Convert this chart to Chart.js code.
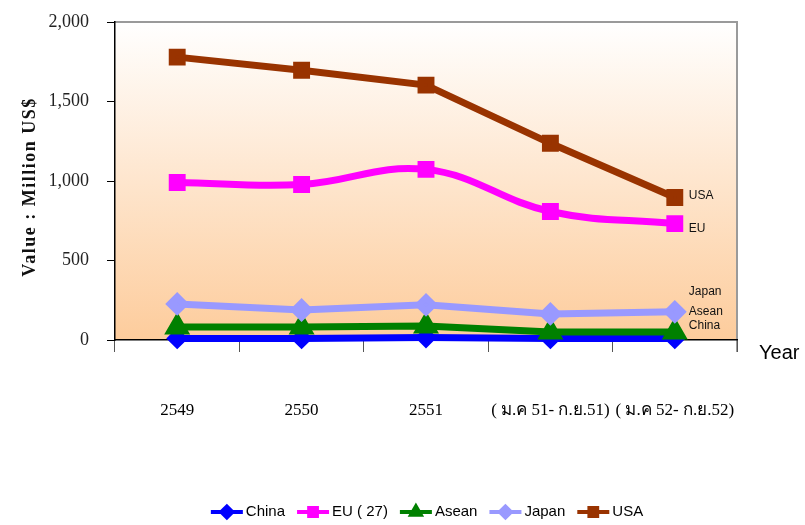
<!DOCTYPE html>
<html>
<head>
<meta charset="utf-8">
<script src="https://cdn.jsdelivr.net/npm/chart.js@4.4.1/dist/chart.umd.min.js"></script>
<style>
  html, body { margin: 0; padding: 0; background: #fff; }
  #wrap { width: 805px; height: 525px; position: relative; }
</style>
</head>
<body>
<div id="wrap"><canvas id="chartExport"></canvas></div>
<script>
/* Export values by destination, million US$ */

const categories = ['2549', '2550', '2551', '( ม.ค 51- ก.ย.51)', '( ม.ค 52- ก.ย.52)'];
const yTicks = [0, 500, 1000, 1500, 2000];

const china = [10, 10, 16, 10, 10];
const eu27 = [991, 978, 1073, 808, 732];
const asean = [82, 82, 88, 50, 50];
const japan = [227, 189, 221, 164, 177];
const usa = [1779, 1697, 1603, 1237, 896];

// side labels next to the last point (value where the text sits)
const sideNames = ['USA', 'EU', 'Japan', 'Asean', 'China'];
const sideAt = [910, 700, 305, 175, 90];

const SERIES = [
  { label: 'China', data: china, color: '#0000ff', point: 'rectRot', r: 6 },
  { label: 'EU ( 27)', data: eu27, color: '#ff00ff', point: 'rect', r: 7, smooth: true },
  { label: 'Asean', data: asean, color: '#008000', point: 'triangle', r: 8 },
  { label: 'Japan', data: japan, color: '#9999ff', point: 'rectRot', r: 7 },
  { label: 'USA', data: usa, color: '#993300', point: 'rect', r: 7 }
];

const datasets = SERIES.map((s, i) => ({
  label: s.label,
  data: s.data,
  borderColor: s.color,
  backgroundColor: s.color,
  borderWidth: 7,
  pointStyle: s.point,
  pointRadius: s.r,
  pointHoverRadius: s.r,
  tension: s.smooth ? 0.4 : 0,
  clip: false,
  order: SERIES.length - i,
  fill: false
}));

const plotBack = {
  id: 'plotBack',
  beforeDraw(chart) {
    const { ctx, chartArea: a } = chart;
    const g = ctx.createLinearGradient(0, a.top, 0, a.bottom);
    g.addColorStop(0, '#ffffff');
    g.addColorStop(1, '#fdcc9c');
    ctx.save();
    ctx.fillStyle = g;
    ctx.fillRect(a.left, a.top, a.right - a.left, a.bottom - a.top);
    ctx.strokeStyle = '#9a9a9a';
    ctx.lineWidth = 2;
    ctx.beginPath();
    ctx.moveTo(a.left, a.top);
    ctx.lineTo(a.right, a.top);
    ctx.lineTo(a.right, a.bottom + 12);
    ctx.stroke();
    ctx.restore();
  },
  afterDraw(chart) {
    const { ctx, chartArea: a, scales } = chart;
    ctx.save();
    // y axis title, spaced out like the original
    ctx.save();
    ctx.translate(30, 187);
    ctx.rotate(-Math.PI / 2);
    ctx.font = 'bold 18px "Liberation Serif", "Times New Roman", serif';
    ctx.letterSpacing = '1.5px';
    ctx.fillStyle = '#111';
    ctx.textAlign = 'center';
    ctx.textBaseline = 'middle';
    ctx.fillText('Value : Million US$', 0, 0);
    ctx.restore();

    // labels at the right end
    ctx.fillStyle = '#111';
    ctx.font = '12px "Liberation Sans", Arial, sans-serif';
    ctx.textBaseline = 'middle';
    const xLast = scales.x.getPixelForValue(categories.length - 1);
    sideNames.forEach((n, i) => {
      ctx.fillText(n, xLast + 14, scales.y.getPixelForValue(sideAt[i]));
    });
    // axis name "Year"
    ctx.font = '20px "Liberation Sans", Arial, sans-serif';
    ctx.fillStyle = '#000';
    ctx.fillText('Year', a.right + 22, a.bottom + 13);

    // legend: line + marker + text
    ctx.font = '15px "Liberation Sans", Arial, sans-serif';
    const lineW = 32, gapTxt = 3, gapItem = 12;
    const widths = SERIES.map(s => lineW + gapTxt + ctx.measureText(s.label).width);
    const total = widths.reduce((p, w) => p + w, 0) + gapItem * (SERIES.length - 1);
    let x = 427 - total / 2;
    const y = 512;
    SERIES.forEach((s, i) => {
      ctx.strokeStyle = s.color;
      ctx.lineWidth = 4;
      ctx.beginPath();
      ctx.moveTo(x, y);
      ctx.lineTo(x + lineW, y);
      ctx.stroke();
      ctx.fillStyle = s.color;
      Chart.helpers.drawPoint(ctx, { pointStyle: s.point, radius: 5.5, borderWidth: 1, rotation: 0 }, x + lineW / 2, y);
      ctx.fillStyle = '#000';
      ctx.fillText(s.label, x + lineW + gapTxt, y);
      x += widths[i] + gapItem;
    });
    ctx.restore();
  }
};

new Chart(document.getElementById('chartExport'), {
  type: 'line',
  data: { labels: categories, datasets },
  options: {
    responsive: true,
    maintainAspectRatio: false,
    animation: false,
    layout: { padding: { top: 22, right: 68, left: 20, bottom: 0 } },
    plugins: { legend: { display: false }, tooltip: { enabled: false } },
    scales: {
      x: {
        offset: true,
        grid: { display: true, offset: true, drawOnChartArea: false, drawTicks: true, tickLength: 12, color: '#555' },
        border: { display: true, color: '#000', width: 1.5 },
        ticks: {
          color: '#000',
          padding: 48,
          maxRotation: 0,
          autoSkip: false,
          font: { family: '"Liberation Serif", "Times New Roman", serif', size: 17 }
        },
        afterFit(s) { s.height = 185; s.paddingLeft = 0; s.paddingRight = 0; }
      },
      y: {
        min: 0,
        max: 2000,
        afterBuildTicks(s) { s.ticks = yTicks.map(v => ({ value: v })); },
        grid: { display: true, drawOnChartArea: false, drawTicks: true, tickLength: 8, color: '#000' },
        border: { display: true, color: '#000', width: 1.5 },
        ticks: {
          color: '#222',
          padding: 18,
          callback: v => v.toLocaleString('en-US'),
          font: { family: '"Liberation Serif", "Times New Roman", serif', size: 18 }
        },
        afterFit(s) { s.width = 95; s.paddingTop = 0; s.paddingBottom = 0; }
      }
    }
  },
  plugins: [plotBack]
});
</script>
</body>
</html>
